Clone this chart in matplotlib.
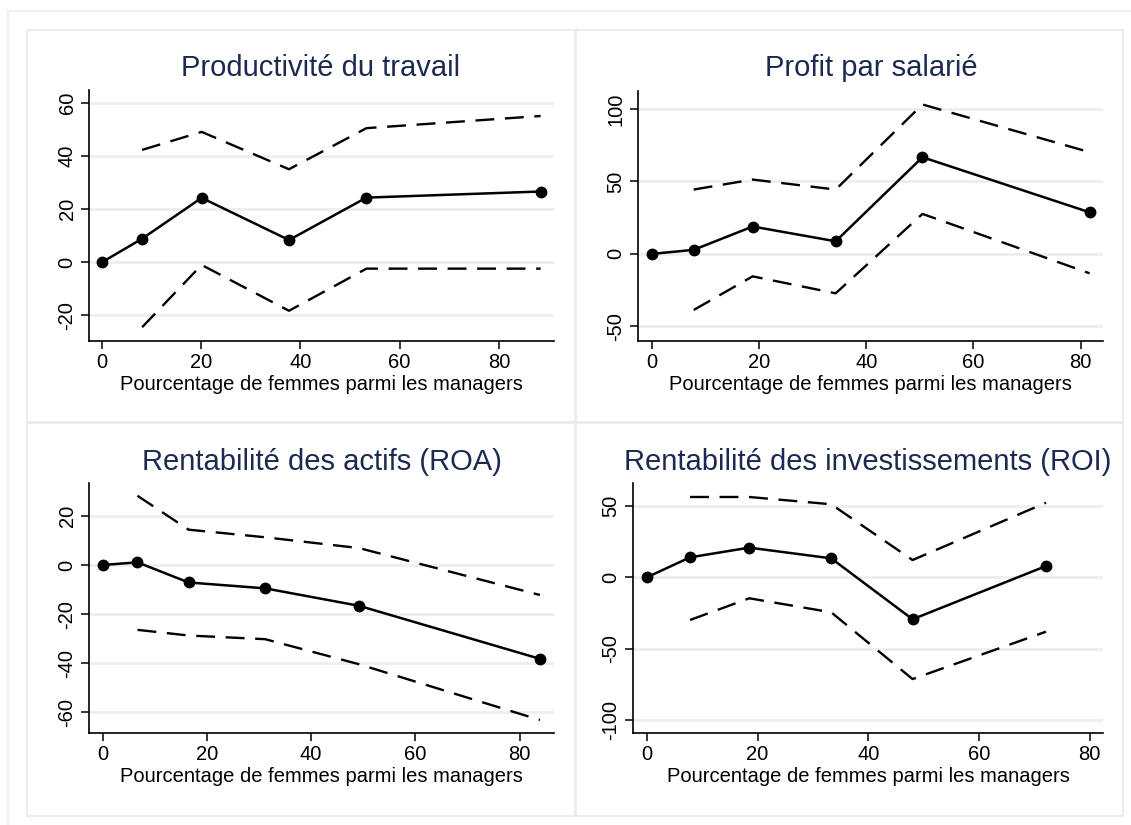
import numpy as np
import matplotlib
matplotlib.use('Agg')
import matplotlib.pyplot as plt
from matplotlib.patches import Rectangle
from matplotlib.lines import Line2D

plt.rcParams['font.family'] = ['Liberation Sans', 'DejaVu Sans']
plt.rcParams['axes.unicode_minus'] = False

# Data: estimate + 95% CI by share of women managers
prod_x = [0, 8.1, 20.1, 37.7, 53.3, 88.4]
prod_y = [0, 8.9, 24.3, 8.4, 24.4, 26.7]
prod_hi = [np.nan, 42.4, 49.2, 35.1, 50.6, 55.2]
prod_lo = [np.nan, -24.5, -1.0, -18.3, -2.4, -2.4]

profit_x = [0, 7.8, 18.8, 34.3, 50.5, 81.7]
profit_y = [0, 2.8, 18.9, 8.7, 66.7, 28.7]
profit_hi = [np.nan, 44.4, 51.3, 44.4, 103.1, 70.2]
profit_lo = [np.nan, -38.7, -15.5, -27.2, 27.6, -13.4]

roa_x = [0, 6.7, 16.5, 31.2, 49.2, 83.9]
roa_y = [0, 1.1, -7.1, -9.5, -16.6, -38.2]
roa_hi = [np.nan, 28.2, 14.4, 11.3, 6.9, -12.2]
roa_lo = [np.nan, -26.4, -28.7, -30.2, -40.4, -63.1]

roi_x = [0, 7.8, 18.5, 33.3, 48.0, 72.1]
roi_y = [0, 14.0, 20.8, 13.3, -29.4, 7.9]
roi_hi = [np.nan, 56.3, 56.3, 51.2, 12.1, 52.3]
roi_lo = [np.nan, -29.9, -14.7, -24.5, -71.3, -38.1]

titles = ['Productivité du travail', 'Profit par salarié',
          'Rentabilité des actifs (ROA)', 'Rentabilité des investissements (ROI)']
xlabel = 'Pourcentage de femmes parmi les managers'

W, H = 1131, 825
fig = plt.figure(figsize=(W / 100, H / 100), dpi=100)
fig.patch.set_facecolor('white')

frame = '#e6edef'
grid_c = '#e8f0f2'
navy = '#1c2a52'

def px(x0, y0, x1, y1):
    # pixel box (top-left origin) -> figure fraction [l, b, w, h]
    return [x0 / W, 1 - y1 / H, (x1 - x0) / W, (y1 - y0) / H]

# outer frame lines and panel boxes
fig.add_artist(Line2D([8 / W, 1], [1 - 11 / H, 1 - 11 / H], color='#edf2f4', lw=1.6))
fig.add_artist(Line2D([8 / W, 8 / W], [0, 1 - 11 / H], color='#edf2f4', lw=1.6))
for (x0, y0, x1, y1) in [(27, 30, 575, 422), (576, 30, 1123, 422),
                         (27, 423, 575, 816), (576, 423, 1123, 816)]:
    l, b, w, h = px(x0, y0, x1, y1)
    fig.add_artist(Rectangle((l, b), w, h, transform=fig.transFigure,
                             fill=False, edgecolor=frame, lw=1.3))

panels = [
    (px(89, 90, 554, 341), prod_x, prod_y, prod_hi, prod_lo,
     (-2.6, 91.1), (-29.7, 65.0), [-20, 0, 20, 40, 60], (321, 68)),
    (px(638, 91, 1103, 341), profit_x, profit_y, profit_hi, profit_lo,
     (-2.6, 84.2), (-60.1, 112.4), [-50, 0, 50, 100], (871, 68)),
    (px(89, 483, 554, 733), roa_x, roa_y, roa_hi, roa_lo,
     (-2.6, 86.6), (-68.4, 33.4), [-60, -40, -20, 0, 20], (322, 462)),
    (px(633, 483, 1103, 733), roi_x, roi_y, roi_hi, roi_lo,
     (-2.5, 82.4), (-109.1, 66.1), [-100, -50, 0, 50], (868, 462)),
]

for i, (rect, x, y, hi, lo, xl, yl, yt, tpos) in enumerate(panels):
    ax = fig.add_axes(rect)
    ax.set_xlim(*xl)
    ax.set_ylim(*yl)
    ax.set_yticks(yt)
    ax.set_xticks([0, 20, 40, 60, 80])
    for v in yt:
        ax.axhline(v, color=grid_c, lw=2, zorder=0)
    ax.plot(x, hi, color='black', lw=1.7, dashes=(8, 4.5))
    ax.plot(x, lo, color='black', lw=1.7, dashes=(8, 4.5))
    ax.plot(x, y, color='black', lw=1.8, marker='o', markersize=7.5)
    for s in ['top', 'right']:
        ax.spines[s].set_visible(False)
    for s in ['left', 'bottom']:
        ax.spines[s].set_linewidth(1.2)
        ax.spines[s].set_color('black')
    ax.tick_params(axis='both', direction='out', length=6, width=1.1,
                   labelsize=14.5, colors='black', pad=3)
    plt.setp(ax.get_yticklabels(), rotation=90, va='center')
    ax.set_xlabel(xlabel, fontsize=14.5, labelpad=2)
    fig.text(tpos[0] / W, 1 - tpos[1] / H, titles[i], fontsize=21,
             color=navy, ha='center', va='center')

fig.savefig('out.png', dpi=100)
